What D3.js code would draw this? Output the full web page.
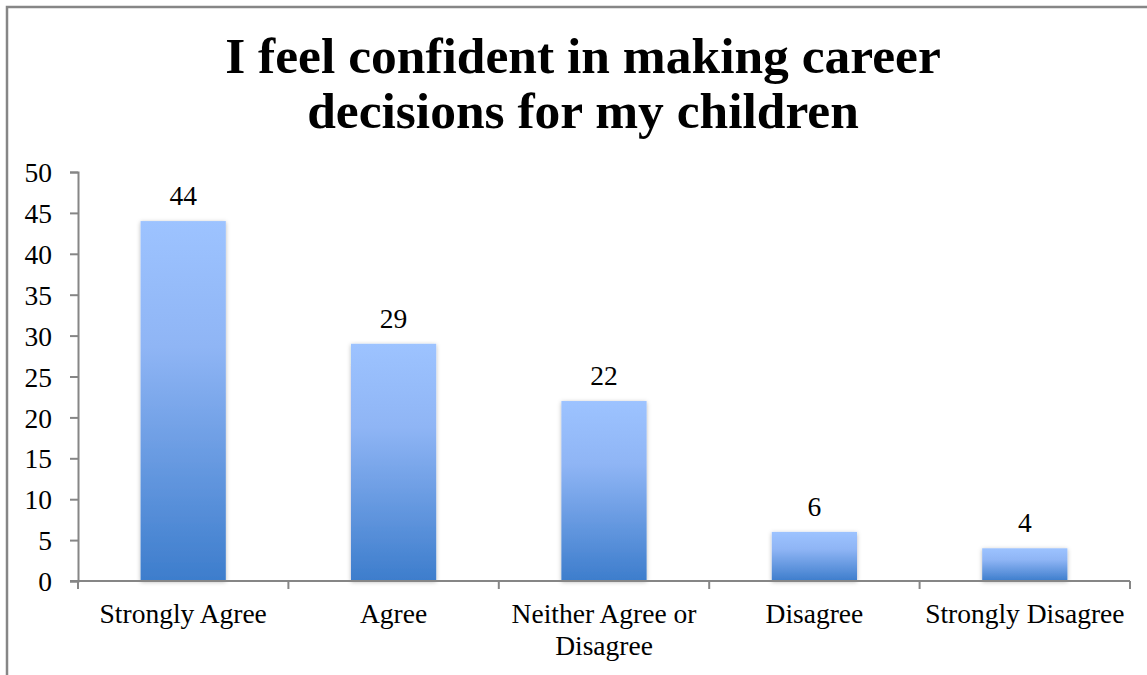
<!DOCTYPE html>
<html>
<head>
<meta charset="utf-8">
<script src="https://cdn.jsdelivr.net/npm/d3@7"></script>
<style>
  html, body { margin: 0; padding: 0; background: #fff; }
  svg { display: block; }
  text { font-family: "Liberation Serif", "DejaVu Serif", serif; fill: #000; }
</style>
</head>
<body>
<svg id="chart" width="1147" height="675"></svg>
<script>
// Survey responses
const titleLines = ["I feel confident in making career", "decisions for my children"];
const categories = [["Strongly Agree"], ["Agree"], ["Neither Agree or", "Disagree"], ["Disagree"], ["Strongly Disagree"]];
const counts = [44, 29, 22, 6, 4];
const yTicks = [0, 5, 10, 15, 20, 25, 30, 35, 40, 45, 50];

const W = 1147, H = 675;
const margin = { left: 78, right: 17, top: 172, bottom: 94 };
const labelSize = 27.5;
const svg = d3.select("#chart");

// defs: bar gradient and soft shadow
const defs = svg.append("defs");
const grad = defs.append("linearGradient")
  .attr("id", "barFill").attr("x1", 0).attr("y1", 0).attr("x2", 0).attr("y2", 1);
grad.append("stop").attr("offset", "0%").attr("stop-color", "#9dc3ff");
grad.append("stop").attr("offset", "35%").attr("stop-color", "#8fb5f5");
grad.append("stop").attr("offset", "100%").attr("stop-color", "#3d7dcc");
const shadow = defs.append("filter").attr("id", "barShadow")
  .attr("x", "-20%").attr("y", "-20%").attr("width", "140%").attr("height", "140%");
shadow.append("feDropShadow").attr("dx", 0).attr("dy", 1).attr("stdDeviation", 2.2)
  .attr("flood-color", "#000").attr("flood-opacity", 0.28);

// outer frame (left and top edges visible)
svg.append("path")
  .attr("d", `M7,${H} V7 H${W}`)
  .attr("fill", "none").attr("stroke", "#868686").attr("stroke-width", 2.5);

// title
const title = svg.append("text")
  .attr("text-anchor", "middle")
  .attr("font-weight", "bold")
  .attr("font-size", 51.5);
titleLines.forEach((t, i) => {
  title.append("tspan").attr("x", 583).attr("y", 73 + i * 55).text(t);
});

const x = d3.scaleBand()
  .domain(d3.range(categories.length))
  .range([margin.left, W - margin.right])
  .paddingInner(0).paddingOuter(0);

const y = d3.scaleLinear().domain([0, 50]).range([H - margin.bottom, margin.top]);

// bars
const barW = x.bandwidth() * 0.405;
svg.append("g").selectAll("rect")
  .data(counts)
  .join("rect")
  .attr("x", (d, i) => x(i) + (x.bandwidth() - barW) / 2)
  .attr("y", d => y(d))
  .attr("width", barW)
  .attr("height", d => y(0) - y(d))
  .attr("fill", "url(#barFill)")
  .attr("filter", "url(#barShadow)");

// value labels
svg.append("g").selectAll("text")
  .data(counts)
  .join("text")
  .attr("x", (d, i) => x(i) + x.bandwidth() / 2)
  .attr("y", d => y(d) - 16)
  .attr("text-anchor", "middle")
  .attr("font-size", labelSize)
  .text(d => d);

// y axis
const yAxis = d3.axisLeft(y).tickValues(yTicks).tickSize(8).tickPadding(18);
const gy = svg.append("g").attr("transform", `translate(${margin.left},0)`).call(yAxis);
gy.select(".domain").attr("stroke", "#868686").attr("stroke-width", 2);
gy.selectAll(".tick line").attr("stroke", "#868686").attr("stroke-width", 2);
gy.selectAll(".tick text").attr("font-size", labelSize).attr("font-family", "Liberation Serif").attr("fill", "#000").attr("dy", "0.35em");

// x axis with category separators
const xBase = y(0);
const gx = svg.append("g");
gx.append("line")
  .attr("x1", margin.left - 8).attr("x2", W - margin.right)
  .attr("y1", xBase).attr("y2", xBase)
  .attr("stroke", "#868686").attr("stroke-width", 2);
gx.selectAll("line.sep")
  .data(d3.range(categories.length + 1))
  .join("line")
  .attr("class", "sep")
  .attr("x1", i => i < categories.length ? x(i) : x(i - 1) + x.bandwidth())
  .attr("x2", i => i < categories.length ? x(i) : x(i - 1) + x.bandwidth())
  .attr("y1", xBase).attr("y2", xBase + 8)
  .attr("stroke", "#868686").attr("stroke-width", 2);

const labels = gx.selectAll("text")
  .data(categories)
  .join("text")
  .attr("text-anchor", "middle")
  .attr("font-size", labelSize);
labels.each(function(lines, i) {
  const t = d3.select(this);
  lines.forEach((s, j) => {
    t.append("tspan").attr("x", x(i) + x.bandwidth() / 2).attr("y", 623 + j * 32).text(s);
  });
});
</script>
</body>
</html>
